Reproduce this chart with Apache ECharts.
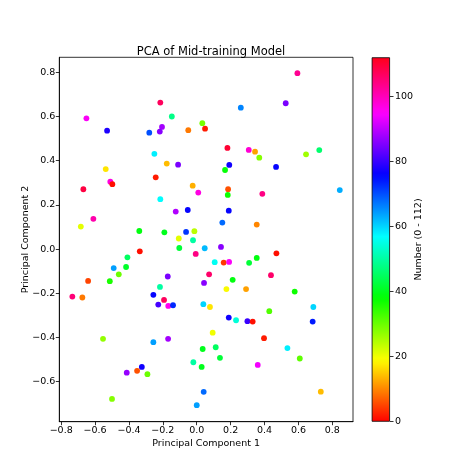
<!DOCTYPE html>
<html><head><meta charset="utf-8">
<script src="https://cdn.jsdelivr.net/npm/echarts@6/dist/echarts.min.js"></script>
<style>html,body{margin:0;padding:0;background:#fff}#c{width:474px;height:474px}</style>
</head><body><div id="c"></div>
<script>
const pc1 = [-0.215,-0.651,-0.147,-0.529,-0.280,-0.205,-0.218,-0.050,-0.250,-0.537,
-0.177,-0.110,-0.242,-0.669,-0.510,-0.498,-0.024,-0.215,0.594,0.525,
0.260,0.033,0.049,0.181,0.307,0.344,0.369,0.645,0.723,0.192,
0.167,0.468,0.009,0.185,0.183,0.387,0.844,-0.610,-0.684,-0.124,
-0.053,-0.339,-0.191,-0.063,-0.014,-0.106,-0.022,-0.103,-0.006,-0.336,
-0.409,-0.490,-0.417,-0.460,-0.513,-0.641,-0.171,-0.217,-0.734,-0.675,
-0.256,-0.193,-0.227,-0.168,-0.140,0.189,0.151,0.354,0.047,0.143,
0.470,0.106,0.159,0.191,0.309,0.354,0.073,0.438,0.043,0.212,
0.175,0.291,0.578,0.039,0.078,0.688,0.428,0.189,0.232,0.299,
0.330,0.684,0.094,0.397,0.535,0.035,0.112,0.137,0.608,-0.020,
0.029,0.360,0.732,0.041,0.000,-0.553,-0.256,-0.169,-0.324,-0.352,
-0.413,-0.291,-0.500];
const pc2 = [0.663,0.592,0.600,0.536,0.527,0.553,0.532,0.538,0.431,0.362,
0.387,0.382,0.325,0.271,0.305,0.294,0.287,0.226,0.796,0.660,
0.640,0.570,0.545,0.458,0.449,0.441,0.414,0.429,0.448,0.381,
0.358,0.372,0.256,0.271,0.245,0.250,0.267,0.137,0.102,0.170,
0.177,0.082,0.076,0.078,0.081,0.048,0.040,0.005,-0.022,-0.010,
-0.037,-0.086,-0.081,-0.114,-0.145,-0.144,-0.124,-0.171,-0.215,-0.219,
-0.207,-0.230,-0.251,-0.257,-0.254,0.174,0.120,0.111,0.004,0.010,
-0.019,-0.059,-0.061,-0.058,-0.062,-0.040,-0.114,-0.118,-0.153,-0.139,
-0.181,-0.181,-0.192,-0.249,-0.262,-0.262,-0.281,-0.310,-0.322,-0.326,
-0.328,-0.328,-0.378,-0.403,-0.448,-0.452,-0.444,-0.492,-0.495,-0.512,
-0.533,-0.524,-0.645,-0.646,-0.706,-0.406,-0.421,-0.406,-0.533,-0.551,
-0.559,-0.566,-0.678];
const number = [107,95,48,78,70,88,86,9,58,17,
14,85,2,109,97,1,13,57,103,85,
66,29,2,110,98,12,28,26,46,77,
38,76,97,6,37,104,63,101,21,89,
76,39,40,72,24,21,50,42,104,1,
45,64,41,30,36,5,85,50,105,9,
76,107,81,96,73,76,68,10,62,86,
1,56,4,95,42,39,106,106,86,39,
19,12,37,60,17,60,32,77,54,80,
1,74,20,2,58,40,45,42,31,50,
40,94,14,68,64,27,64,88,77,6,
87,30,28];
const xTickLabels = ['\u22120.8','\u22120.6','\u22120.4','\u22120.2','0.0','0.2','0.4','0.6','0.8'];
const xTickValues = [-0.8,-0.6,-0.4,-0.2,0,0.2,0.4,0.6,0.8];
const yTickLabels = ['\u22120.6','\u22120.4','\u22120.2','0.0','0.2','0.4','0.6','0.8'];
const yTickValues = [-0.6,-0.4,-0.2,0,0.2,0.4,0.6,0.8];
const cbTickValues = [0,20,40,60,80,100];
const cbTickLabels = ['0','20','40','60','80','100'];

// matplotlib 'hsv' colormap
const hsvR = [[0,1],[0.158730,1],[0.174603,0.96875],[0.333333,0.03125],[0.349206,0],[0.666667,0],[0.682540,0.03125],[0.841270,0.96875],[0.857143,1],[1,1]];
const hsvG = [[0,0],[0.158730,0.9375],[0.174603,1],[0.507937,1],[0.666667,0.0625],[0.682540,0],[1,0]];
const hsvB = [[0,0],[0.333333,0],[0.349206,0.0625],[0.507937,1],[0.841270,1],[0.857143,0.9375],[1,0.09375]];
function interp(seg, t){
  for (let i=0;i<seg.length-1;i++){
    const a=seg[i], b=seg[i+1];
    if (t>=a[0] && t<=b[0]) return a[1]+(b[1]-a[1])*(t-a[0])/(b[0]-a[0]);
  }
  return seg[seg.length-1][1];
}
function hsv(t){
  const r=Math.round(interp(hsvR,t)*255), g=Math.round(interp(hsvG,t)*255), b=Math.round(interp(hsvB,t)*255);
  return 'rgb('+r+','+g+','+b+')';
}
const N = 127;
const cmapColors = [];
for (let i=0;i<N;i++) cmapColors.push(hsv(i/(N-1)));
const gradStops = cmapColors.map((c,i)=>({offset:i/(N-1), color:c}));

function labelFor(values, labels){
  return function(v){
    for (let i=0;i<values.length;i++) if (Math.abs(values[i]-v)<1e-6) return labels[i];
    return '';
  };
}

const font = 'DejaVu Sans';
const chart = echarts.init(document.getElementById('c'), null, {renderer:'canvas'});
const points = pc1.map((x,i)=>[x, pc2[i], number[i]]);

chart.setOption({
  animation:false,
  backgroundColor:'#fff',
  title:{
    text:'PCA of Mid-training Model',
    left:206, top:41, textAlign:'center',
    textStyle:{fontFamily:font, fontSize:11.5, fontWeight:'normal', color:'#000'}
  },
  grid:[
    {left:59.3, top:57.3, width:293.7, height:364.4, show:true, borderColor:'#000', borderWidth:0.8, backgroundColor:'transparent'},
    {left:371.7, top:57.3, width:18.3, height:364.4, show:false}
  ],
  xAxis:[
    {type:'value', gridIndex:0, min:-0.811, max:0.922, splitNumber:8,
     name:'Principal Component 1', nameLocation:'middle', nameGap:17, nameMoveOverlap:false,
     nameTextStyle:{fontFamily:font, fontSize:9.5, color:'#000'},
     axisLine:{show:true, onZero:false, lineStyle:{color:'#000', width:0.8}},
     axisTick:{show:true, length:3.5, lineStyle:{color:'#000', width:0.8}},
     axisLabel:{fontFamily:font, fontSize:9.5, color:'#000', margin:4, showMinLabel:false, showMaxLabel:false,
       formatter:labelFor(xTickValues, xTickLabels)},
     splitLine:{show:false}},
    {type:'category', gridIndex:1, data:['cb'], show:false}
  ],
  yAxis:[
    {type:'value', gridIndex:0, min:-0.781, max:0.868, splitNumber:8,
     name:'Principal Component 2', nameLocation:'middle', nameGap:29, nameRotate:90, nameMoveOverlap:false,
     nameTextStyle:{fontFamily:font, fontSize:9.5, color:'#000'},
     axisLine:{show:true, onZero:false, lineStyle:{color:'#000', width:0.8}},
     axisTick:{show:true, length:3.5, lineStyle:{color:'#000', width:0.8}},
     axisLabel:{fontFamily:font, fontSize:9.5, color:'#000', margin:4, showMinLabel:false, showMaxLabel:false,
       formatter:labelFor(yTickValues, yTickLabels)},
     splitLine:{show:false}},
    {type:'value', gridIndex:1, min:0, max:112, interval:20, position:'right',
     name:'Number (0 - 112)', nameLocation:'middle', nameGap:24, nameRotate:90, nameMoveOverlap:false,
     nameTextStyle:{fontFamily:font, fontSize:9.5, color:'#000'},
     axisLine:{show:false},
     axisTick:{show:true, length:3.5, lineStyle:{color:'#000', width:0.8}},
     axisLabel:{fontFamily:font, fontSize:9.5, color:'#000', margin:5, showMaxLabel:false,
       formatter:labelFor(cbTickValues, cbTickLabels)},
     splitLine:{show:false}}
  ],
  visualMap:[{
    type:'continuous', show:false, seriesIndex:0, dimension:2, min:0, max:112,
    inRange:{color:cmapColors}
  }],
  series:[
    {type:'scatter', xAxisIndex:0, yAxisIndex:0, data:points, symbolSize:5.8,
     itemStyle:{opacity:1}},
    {type:'bar', xAxisIndex:1, yAxisIndex:1, data:[112], barWidth:'100%',
     itemStyle:{color:new echarts.graphic.LinearGradient(0,1,0,0,gradStops), borderColor:'#000', borderWidth:0.8}}
  ]
});
</script></body></html>
